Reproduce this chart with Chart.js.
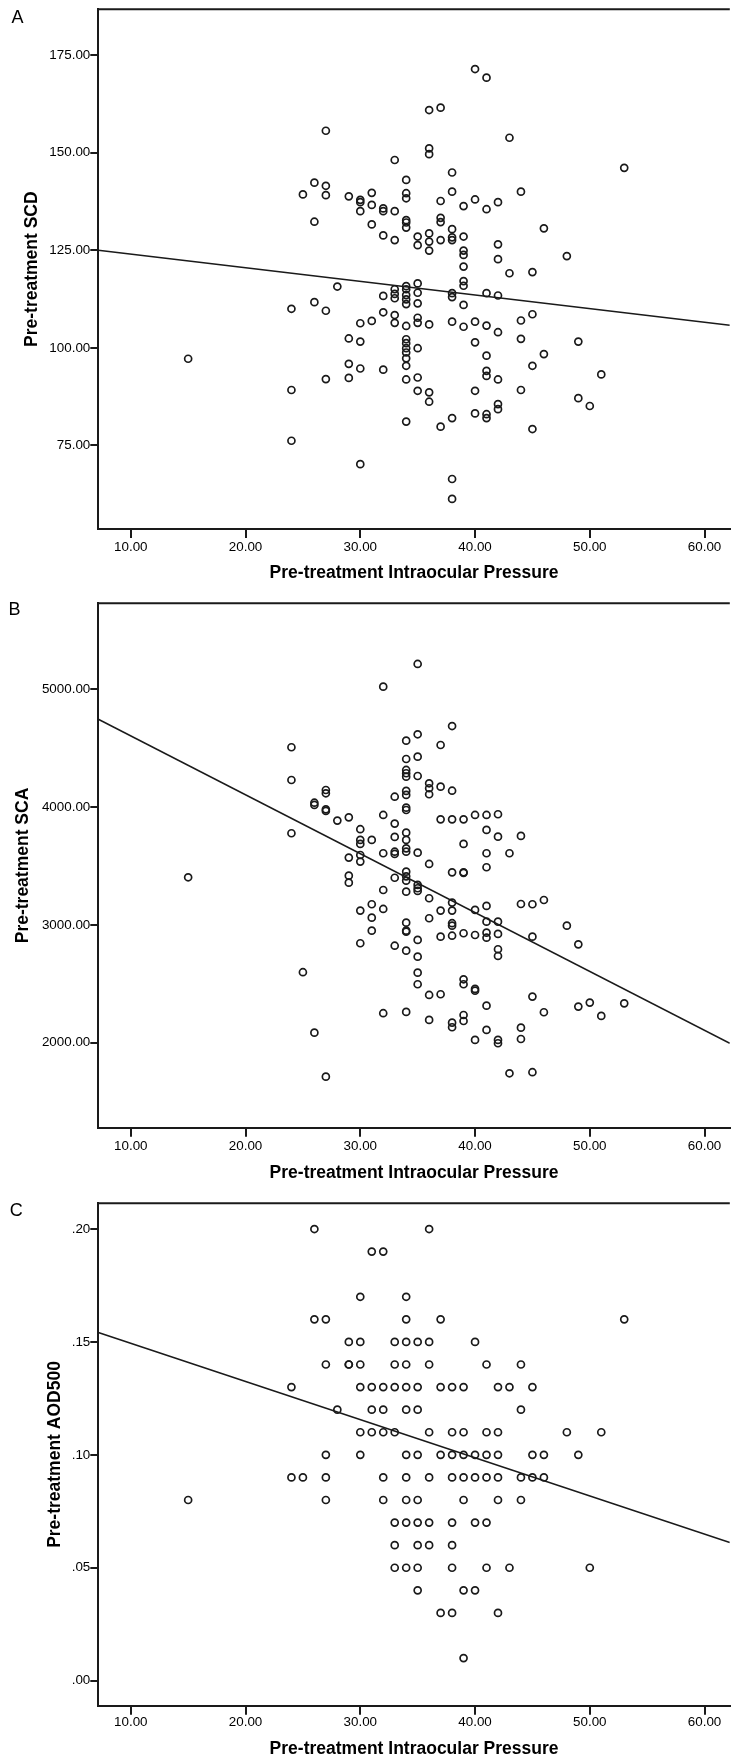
<!DOCTYPE html>
<html>
<head>
<meta charset="utf-8">
<script src="https://cdn.jsdelivr.net/npm/chart.js@4.4.0/dist/chart.umd.min.js"></script>
<style>
  body { margin: 0; background: #fff; width: 735px; height: 1758px; position: relative; overflow: hidden; }
  canvas { position: absolute; left: 0; }
  .letter { position: absolute; font-family: "Liberation Sans", Arial, sans-serif; font-size: 18px; line-height: 1; color: #000; }
</style>
</head>
<body>
<canvas id="chartA" width="735" height="582" style="top:0"></canvas>
<canvas id="chartB" width="735" height="592" style="top:590px"></canvas>
<canvas id="chartC" width="735" height="574" style="top:1184px"></canvas>
<div class="letter" style="left:11.5px;top:7.6px">A</div>
<div class="letter" style="left:8.6px;top:599.6px">B</div>
<div class="letter" style="left:9.8px;top:1200.7px">C</div>
<script>
// x axis, shared by the three panels
const xTicks = [10, 20, 30, 40, 50, 60]
const xMin = 7.17
const xMax = 62.2

// IOP values that occur in the data (same set in every panel)
const iop = [15, 24, 25, 26, 27, 28, 29, 30, 31, 32, 33, 34, 35, 36, 37, 38, 39, 40, 41, 42, 43, 44, 45, 46, 48, 49, 50, 51, 53]

// A - SCD, one list per IOP value above
const scd = [
  [97.2],
  [110.0, 89.2, 76.2],
  [139.3],
  [142.3, 132.3, 111.7],
  [155.6, 141.5, 139.1, 109.5, 92.0],
  [115.7],
  [138.8, 102.4, 95.9, 92.3],
  [137.9, 137.3, 135.0, 106.3, 101.6, 94.7, 70.2],
  [139.7, 136.6, 131.6, 106.9],
  [135.7, 135.0, 128.8, 113.3, 109.1, 94.4],
  [148.1, 135.0, 127.6, 115.0, 113.8, 112.7, 108.4, 106.4],
  [143.0, 139.6, 138.3, 132.7, 132.1, 130.8, 115.8, 115.0, 113.5, 112.4, 111.2, 105.6, 102.2, 101.2, 99.9, 98.8, 97.3, 95.4, 91.9, 81.1],
  [128.5, 126.3, 116.5, 114.1, 111.4, 107.7, 106.4, 99.9, 92.4, 89.0],
  [160.9, 151.1, 149.6, 129.3, 127.2, 124.9, 106.0, 88.6, 86.2],
  [161.5, 137.6, 133.3, 132.2, 127.6, 79.8],
  [144.9, 140.0, 130.4, 128.3, 127.6, 114.0, 113.0, 106.7, 82.0, 66.4, 61.3],
  [136.3, 128.5, 124.9, 123.8, 120.8, 117.1, 115.9, 111.0, 105.4],
  [171.4, 138.0, 106.7, 101.4, 89.0, 83.2],
  [169.2, 135.5, 114.0, 105.7, 98.0, 94.1, 92.8, 83.0, 82.0],
  [137.3, 126.5, 122.7, 113.4, 104.0, 91.9, 85.6, 84.3],
  [153.8, 119.1],
  [140.0, 107.0, 102.3, 89.2],
  [119.4, 108.6, 95.4, 79.2],
  [130.6, 98.4],
  [123.5],
  [101.6, 87.1],
  [85.1],
  [93.2],
  [146.1]
]
const scdTicks = [75, 100, 125, 150, 175]
const scdFitX = [7.17, 62.2]
const scdFitY = [125.0, 105.8]

// B - SCA
const sca = [
  [3404],
  [4508, 4230, 3778],
  [2598],
  [4037, 4018, 2085],
  [4145, 4117, 3981, 3967, 1711],
  [3885],
  [3913, 3571, 3418, 3358],
  [3812, 3721, 3687, 3593, 3537, 3121, 2844],
  [3721, 3175, 3061, 2951],
  [5022, 3933, 3608, 3296, 3135, 2250],
  [4088, 3860, 3747, 3621, 3602, 3400, 2823],
  [4564, 4408, 4315, 4287, 4258, 4137, 4103, 3995, 3975, 3783, 3721, 3650, 3621, 3452, 3412, 3375, 3282, 3019, 2951, 2942, 2781, 2261],
  [5215, 4618, 4428, 4264, 3613, 3339, 3311, 3288, 2872, 2730, 2594, 2496],
  [4202, 4160, 4109, 3517, 3226, 3056, 2405, 2193],
  [4527, 4173, 3896, 3121, 2900, 2411],
  [4688, 4139, 3896, 3446, 3189, 3121, 3014, 2993, 2908, 2170, 2131],
  [3896, 3687, 3446, 3442, 2929, 2538, 2496, 2235, 2184],
  [3933, 3127, 2914, 2456, 2441, 2023],
  [3933, 3806, 3608, 3489, 3161, 3027, 2934, 2891, 2314, 2108],
  [3939, 3749, 3027, 2923, 2793, 2736, 2023, 1995],
  [3608, 1740],
  [3755, 3177, 2127, 2031],
  [3175, 2900, 2391, 1749],
  [3211, 2258],
  [2993],
  [2835, 2306],
  [2340],
  [2227],
  [2334]
]
const scaTicks = [2000, 3000, 4000, 5000]
const scaFitX = [7.17, 62.2]
const scaFitY = [4745, 1995]

// C - AOD500
const aod = [
  [0.08],
  [0.13, 0.09],
  [0.09],
  [0.20, 0.16],
  [0.16, 0.14, 0.10, 0.09, 0.08],
  [0.12],
  [0.15, 0.14, 0.14],
  [0.17, 0.15, 0.14, 0.13, 0.11, 0.10],
  [0.19, 0.13, 0.12, 0.11],
  [0.19, 0.13, 0.12, 0.11, 0.09, 0.08],
  [0.15, 0.14, 0.13, 0.11, 0.07, 0.06, 0.05],
  [0.17, 0.16, 0.15, 0.14, 0.13, 0.12, 0.10, 0.09, 0.08, 0.07, 0.05],
  [0.15, 0.13, 0.12, 0.10, 0.08, 0.07, 0.06, 0.05, 0.04],
  [0.20, 0.15, 0.14, 0.11, 0.09, 0.07, 0.06],
  [0.16, 0.13, 0.10, 0.03],
  [0.13, 0.11, 0.10, 0.09, 0.07, 0.06, 0.05, 0.03],
  [0.13, 0.11, 0.10, 0.09, 0.08, 0.04, 0.01],
  [0.15, 0.10, 0.09, 0.07, 0.04],
  [0.14, 0.11, 0.10, 0.09, 0.07, 0.05],
  [0.13, 0.11, 0.10, 0.09, 0.08, 0.03],
  [0.13, 0.05],
  [0.14, 0.12, 0.09, 0.08],
  [0.13, 0.10, 0.09],
  [0.10, 0.09],
  [0.11],
  [0.10],
  [0.05],
  [0.11],
  [0.16]
]
const aodTicks = [0, 0.05, 0.10, 0.15, 0.20]
const aodFitX = [7.17, 62.2]
const aodFitY = [0.1542, 0.0612]

const family = '"Liberation Sans", Arial, sans-serif'
const tickFont = { family: family, size: 13.4 }
const titleFont = { family: family, size: 17.5, weight: 'bold', lineHeight: 1 }
const ink = '#1a1a1a'

// SPSS draws the top edge of the frame too, but no right edge (it runs off the picture)
const topFrame = {
  id: 'topFrame',
  afterDraw(chart) {
    const a = chart.chartArea
    const c = chart.ctx
    c.save()
    c.strokeStyle = ink
    c.lineWidth = 2
    c.beginPath()
    c.moveTo(a.left - 1, a.top)
    c.lineTo(a.right, a.top)
    c.stroke()
    c.restore()
  }
}

function makePanel(p) {
  const pts = []
  iop.forEach((x, i) => p.vals[i].forEach(y => pts.push({ x: x, y: y })))
  const fit = p.fitX.map((x, i) => ({ x: x, y: p.fitY[i] }))

  return new Chart(document.getElementById(p.id), {
    type: 'scatter',
    data: {
      datasets: [
        { data: pts, pointRadius: 3.5, pointHoverRadius: 3.5, pointBorderWidth: 1.7, borderColor: ink, backgroundColor: 'rgba(0,0,0,0)' },
        { data: fit, showLine: true, pointRadius: 0, borderColor: ink, borderWidth: 1.6 }
      ]
    },
    options: {
      responsive: false,
      animation: false,
      devicePixelRatio: 1,
      layout: { padding: { left: p.padLeft, top: p.padTop, right: 0, bottom: 0 } },
      plugins: { legend: { display: false }, tooltip: { enabled: false } },
      scales: {
        x: {
          type: 'linear',
          min: xMin,
          max: xMax,
          afterBuildTicks: s => { s.ticks = xTicks.map(v => ({ value: v })) },
          afterFit: s => { s.height = p.xHeight },
          ticks: { padding: p.xPad, color: '#000', font: tickFont, maxRotation: 0, autoSkip: false, callback: v => v.toFixed(2) },
          grid: { drawOnChartArea: false, tickLength: 9, color: ink, lineWidth: 2 },
          border: { color: ink, width: 2 },
          title: { display: true, text: 'Pre-treatment Intraocular Pressure', color: '#000', font: titleFont, padding: 0 }
        },
        y: {
          type: 'linear',
          min: p.yMin,
          max: p.yMax,
          afterBuildTicks: s => { s.ticks = p.yTicks.map(v => ({ value: v })) },
          afterFit: s => { s.width = 98.3 - p.padLeft },
          ticks: { padding: 0, color: '#000', font: tickFont, autoSkip: false, callback: p.fmt },
          grid: { drawOnChartArea: false, tickLength: 8, color: ink, lineWidth: 2 },
          border: { color: ink, width: 2 },
          title: { display: true, text: p.title, color: '#000', font: titleFont, padding: 0 }
        }
      }
    },
    plugins: [topFrame]
  })
}

makePanel({
  id: 'chartA', vals: scd, fitX: scdFitX, fitY: scdFitY,
  yMin: 53.6, yMax: 186.7, yTicks: scdTicks, title: 'Pre-treatment SCD',
  fmt: v => v.toFixed(2), padLeft: 23.25, padTop: 9.3, xHeight: 53, xPad: 1
})
makePanel({
  id: 'chartB', vals: sca, fitX: scaFitX, fitY: scaFitY,
  yMin: 1278, yMax: 5730, yTicks: scaTicks, title: 'Pre-treatment SCA',
  fmt: v => v.toFixed(2), padLeft: 14.5, padTop: 13.3, xHeight: 54.3, xPad: 1.3
})
makePanel({
  id: 'chartC', vals: aod, fitX: aodFitX, fitY: aodFitY,
  yMin: -0.0111, yMax: 0.2114, yTicks: aodTicks, title: 'Pre-treatment AOD500',
  fmt: v => v.toFixed(2).replace(/^0/, ''), padLeft: 46.25, padTop: 19.3, xHeight: 52.3, xPad: 0
})
</script>
</body>
</html>
